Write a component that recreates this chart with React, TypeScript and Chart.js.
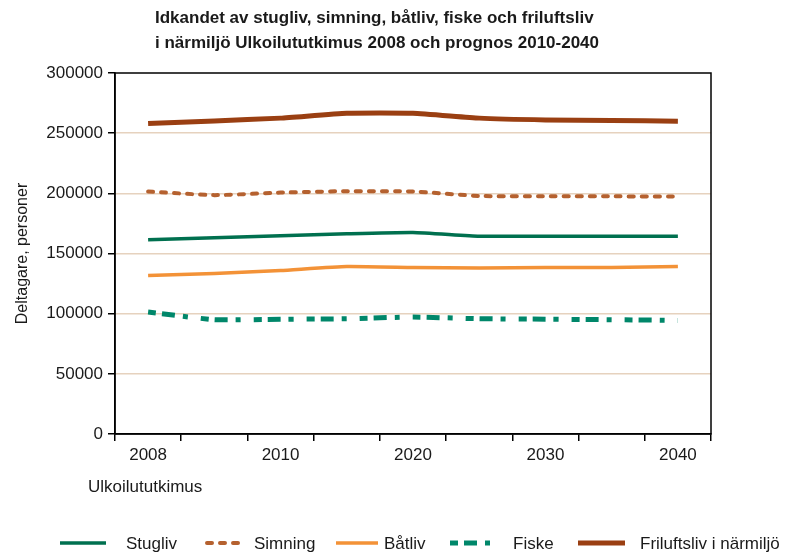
import React, { useEffect, useRef } from 'react';
import { Chart, registerables } from 'chart.js';

Chart.register(...registerables);

// ---- Data ----
const categories = ['2008', '', '2010', '', '2020', '', '2030', '', '2040'];
const seriesNames = ['Stugliv', 'Simning', 'Båtliv', 'Fiske', 'Friluftsliv i närmiljö'];
const stugliv = [161400, 163000, 164700, 166400, 167500, 164400, 164400, 164400, 164400];
const simning = [201500, 198500, 200600, 201800, 201500, 197800, 197500, 197500, 197300];
const batliv = [131700, 133400, 135900, 139200, 138400, 137900, 138400, 138400, 139300];
const fiske = [101300, 95000, 95300, 95800, 97200, 95800, 95400, 95000, 94400];
const friluftsliv = [258000, 260200, 262500, 266600, 266600, 262500, 261000, 260500, 260000];
const yMin = 0;
const yMax = 300000;
const yStep = 50000;

const titleLines = [
  'Idkandet av stugliv, simning, båtliv, fiske och friluftsliv',
  'i närmiljö Ulkoilututkimus 2008 och prognos 2010-2040',
];
const yTitle = 'Deltagare, personer';
const xSubTitle = 'Ulkoilututkimus';

// ---- Style ----
const FONT = '"Liberation Sans", Arial, Helvetica, sans-serif';
const TEXT = '#1a1a1a';
const GRID = '#E6D2BE';
const legendLineX = [60, 207, 336, 450, 578];
const legendLineW = [46, 38, 42, 41, 47];
const legendTextX = [126, 254, 384, 513, 640];
const legendY = 543;

export default function App() {
  const ref = useRef<HTMLCanvasElement>(null);

  useEffect(() => {
    document.body.style.margin = '0';
    const canvas = ref.current;
    if (!canvas) return;

    const extras = {
      id: 'extras',
      afterDraw(chart: any) {
        const ctx = chart.ctx as CanvasRenderingContext2D;
        const a = chart.chartArea;
        ctx.save();
        ctx.setLineDash([]);
        ctx.strokeStyle = '#000';
        ctx.lineWidth = 1.5;
        ctx.strokeRect(a.left, a.top, a.right - a.left, a.bottom - a.top);

        ctx.fillStyle = TEXT;
        ctx.textAlign = 'left';
        ctx.textBaseline = 'middle';
        ctx.font = `bold 17px ${FONT}`;
        ctx.fillText(titleLines[0], 155, 18);
        ctx.fillText(titleLines[1], 155, 43);

        ctx.font = `17px ${FONT}`;
        ctx.fillText(xSubTitle, 88, 487);

        chart.data.datasets.forEach((ds: any, i: number) => {
          ctx.save();
          ctx.strokeStyle = ds.borderColor;
          ctx.lineWidth = ds.borderWidth;
          ctx.lineCap = ds.borderCapStyle || 'butt';
          ctx.setLineDash(ds.borderDash || []);
          ctx.beginPath();
          ctx.moveTo(legendLineX[i], legendY);
          ctx.lineTo(legendLineX[i] + legendLineW[i], legendY);
          ctx.stroke();
          ctx.restore();
          ctx.fillStyle = TEXT;
          ctx.font = `17px ${FONT}`;
          ctx.fillText(ds.label, legendTextX[i], legendY + 1);
        });
        ctx.restore();
      },
    };

    const chart = new Chart(canvas, {
      type: 'line',
      data: {
        labels: categories,
        datasets: [
          { label: seriesNames[0], data: stugliv, borderColor: '#00704F', borderWidth: 3.5, pointRadius: 0, tension: 0.15 },
          { label: seriesNames[1], data: simning, borderColor: '#B5612F', borderWidth: 4, borderDash: [5, 8], borderCapStyle: 'round', pointRadius: 0, tension: 0.15 },
          { label: seriesNames[2], data: batliv, borderColor: '#F39237', borderWidth: 3.5, pointRadius: 0, tension: 0.15 },
          { label: seriesNames[3], data: fiske, borderColor: '#00876A', borderWidth: 5, borderDash: [8, 6, 13, 8, 5, 13], pointRadius: 0, tension: 0.15 },
          { label: seriesNames[4], data: friluftsliv, borderColor: '#9A3F12', borderWidth: 5, pointRadius: 0, tension: 0.15 },
        ] as any,
      },
      options: {
        responsive: false,
        animation: false,
        layout: { padding: { top: 73, right: 76, left: 0, bottom: 0 } },
        plugins: {
          legend: { display: false },
          title: { display: false },
          tooltip: { enabled: false },
        },
        scales: {
          x: {
            type: 'category',
            offset: true,
            grid: { offset: true, drawOnChartArea: false, tickColor: '#000', tickLength: 7, lineWidth: 1.5 },
            border: { color: '#000', width: 1.5 },
            ticks: { autoSkip: false, maxRotation: 0, color: TEXT, font: { family: FONT, size: 17 }, padding: 4 },
            afterFit: (scale: any) => { scale.height = 120; },
          },
          y: {
            min: yMin,
            max: yMax,
            ticks: {
              stepSize: yStep,
              color: TEXT,
              font: { family: FONT, size: 17 },
              padding: 5,
              callback: (v: any) => String(v),
            },
            grid: {
              color: (c: any) => (c.tick && (c.tick.value === yMin || c.tick.value === yMax) ? 'rgba(0,0,0,0)' : GRID),
              lineWidth: 1.5,
              tickColor: '#000',
              tickLength: 7,
            },
            border: { color: '#000', width: 1.5 },
            title: { display: true, text: yTitle, color: TEXT, font: { family: FONT, size: 16 }, padding: { top: 13, bottom: 0 } },
            afterFit: (scale: any) => { scale.width = 115; },
          },
        },
      } as any,
      plugins: [extras],
    });

    return () => chart.destroy();
  }, []);

  return (
    <div style={{ width: 787, height: 554 }}>
      <canvas ref={ref} width={787} height={554} />
    </div>
  );
}
